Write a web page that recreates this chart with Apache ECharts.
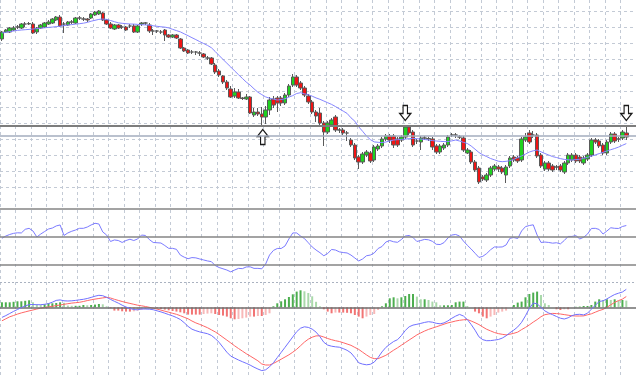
<!DOCTYPE html>
<html>
<head>
<meta charset="utf-8">
<title>chart</title>
<script src="https://cdn.jsdelivr.net/npm/echarts@6.0.0/dist/echarts.min.js"></script>
<style>
    html,body{margin:0;padding:0;background:#fff;}
    #main{width:636px;height:378px;}
</style>
</head>
<body>
<div id="main"></div>
<script>
// price panel (candles)
let candleOpen=[
    161,168,168,170,173,172,176,176,176,168,
    172,173,176,177,180,183,176,175,178,177,
    182,181,181,182,185,186,187,180,176,171,
    175,173,173,174,174,168,176,177,175,169,
    169,168,170,165,163,165,161,152,150,148,
    148,147,146,142,142,135,129,124,118,111,
    104,108,102,101,103,85,88,86,83,90,
    101,102,102,97,105,115,123,117,112,104,
    98,88,87,77,68,75,83,70,70,67,
    60,55,43,38,45,47,40,51,54,61,
    64,64,61,60,63,73,68,59,58,62,
    61,61,54,48,52,55,65,65,63,62,
    47,48,38,32,23,20,25,31,33,32,
    25,34,43,42,40,60,67,65,65,45,
    31,37,34,33,34,28,37,40,45,43,
    37,41,45,60,59,55,47,58,66,61,
    62,67
];
let candleClose=[
    168,170,172,172,173,176,176,176.5,167,172,
    175,177,178,181,183,174,176,178,178,182,
    182,181,180,186,188,189,180,176,172,175,
    172,173,170,174,168,174,177,177,169,169,
    169,168,165,163,165,162,152,149,147,148,
    148,147,143,142,136,128,125,118,112,103,
    108,102,101.5,103,87,88,86,83,90,100,
    95,97,97,105,114,123,115,112,105,98,
    88,84,77,68,77,80,70,70,67,67,
    55,42,38,46,48,39,53,54,61,64,
    60,55,55,63,73,67,55,59,62,62,
    61.5,53,48,54,55,63,65,65,63,50,
    50,38,30,18,21,25,32,34,31,28,
    33,42,40,39,61,63,58,65,44,34,
    37,31,30,33,30,37,45,45,39,39,
    42,45,60,58,54,47,58,66,59,61,
    68,63
];
let candleLow=[
    159,167,167,169,171,171,173,175,166,166,
    171,172,175,176,179,173,167,174,176,176,
    180,179,178,181,184,185,179,175,171,170,
    171,171,169,172,167,167,174,175,167,165,
    167,166,159,162,162,161,151,148,146,146,
    145,144,142,140,135,126,123,116,110,102,
    102,101,100,100,86,83,84,74,76,85,
    92,88,94,95,103,113,113,110,103,96,
    86,78,75,54,66,73,68,67,65,59,
    53,40,31,36,43,37,38,49,52,59,
    57,52,53,58,61,65,53,56,50,60,
    59,50,46,46,50,53,63,62,61,48,
    46,36,28,16,19,18,23,29,28,26,
    17,32,38,37,38,58,56,62,42,32,
    29,29,28,30,28,26,35,38,37,37,
    35,39,43,56,52,45,45,56,57,58,
    60,60
];
let candleHigh=[
    169,171,173,174,175,177,178,178,178,173,
    176,178,180,182,184,185,178,179,180,183,
    184,183,182,187,189,190,188,181,178,176,
    176,175,174,176,176,175,178,178,177,171,
    170,170,171,166,166,166,162,153,151,150,
    149,149,147,144,143,137,131,125,120,114,
    112,111,103,106,104,92,92,93,94,103,
    104,104,104,107,116,126,125,119,114,106,
    100,90,92,79,79,82,85,72,72,69,
    62,57,45,48,50,49,55,56,63,66,
    66,66,63,65,75,75,70,61,64,64,
    63,63,56,56,57,65,67,67,65,64,
    52,50,40,34,25,27,34,36,35,34,
    35,44,45,44,63,67,70,69,67,47,
    39,39,36,35,36,39,47,47,47,45,
    44,47,62,62,61,57,60,68,68,63,
    70,73
];
let maLine=[
    167,167.7,168.4,169,169.6,170,170.3,170.6,171,171.4,
    171.8,172.2,172.6,172.9,173.4,173.8,174.4,175,175.4,175.9,
    176.3,176.8,177.6,178.8,179.7,180.6,181,180.6,179.5,178.3,
    177.2,176.7,176.3,176,175.9,175.6,175.3,175.1,174.9,174.2,
    173.7,173.2,172.9,172.1,170.7,169.4,168.1,166.2,164.3,162.3,
    160.4,158.4,156.5,154.6,152.3,148.5,144.5,140.6,136.8,133,
    129.1,125.3,121.6,117.9,114.9,111.2,107.8,105.4,103.1,101.8,
    100.9,100,100.4,101.3,102.9,104.4,106.5,107.3,106.2,105.3,
    103.8,102.1,100.7,99,97.3,95.6,93.5,91.1,88.9,86.6,
    82.2,78.8,73.2,68.7,64,60.4,58.1,57.7,57.4,58,
    59,60,60.3,60.6,60.9,61.3,61.7,61.3,60.9,60.5,
    60,59.4,59,58.7,58.4,58.4,59.1,60,59,57.7,
    56.5,54,50.8,47.5,45.2,43.4,41.5,40.2,38.8,38.3,
    38.7,39.3,40.8,42.4,44.1,45.9,48,49.2,50,48.2,
    46.5,45,43.4,42.5,41.4,40.6,40.2,40,40.4,40.7,
    41.7,42.7,43.8,45.1,46.4,47.7,49,50.3,51.5,52.9,
    54.7,56.4
];
let priceLevels=[74.5,64];
// arrow signals: bar index + price level
let arrowDownBars=[104,161];
let arrowDownLevels=[87,87];
let arrowUpBars=[67];
let arrowUpLevels=[63];

// oscillator panel
let rsiValues=[
    48.6,50.2,51.3,52.1,52.5,52.4,55.0,55.7,53.8,49.5,
    51.6,53.4,55.2,55.9,57.4,58.1,50.6,52.4,53.6,54.5,
    55.7,55.7,56.6,58.1,59.3,58.8,53.1,50.9,46.3,47.4,
    47.0,45.6,47.0,47.9,47.0,48.1,50.9,50.6,47.7,45.6,
    45.4,45.2,43.4,41.4,41.4,40.7,36.6,35.1,34.0,34.8,
    34.6,33.8,33.1,32.4,31.9,29.1,27.7,26.8,25.9,24.6,
    25.9,27.1,26.9,28.1,28.2,27.1,27.1,26.8,30.2,36.6,
    39.9,41.3,41.3,43.1,48.1,52.4,52.4,50.2,48.4,45.4,
    42.4,40.2,38.3,36.1,37.7,40.6,40.2,38.9,38.4,38.1,
    36.6,34.5,32.4,33.8,36.1,36.6,38.1,41.3,42.7,45.9,
    47.0,46.1,45.7,47.7,50.2,50.6,49.1,46.3,47.0,47.8,
    47.5,46.4,44.3,44.1,45.5,48.8,50.9,51.3,50.2,46.6,
    43.6,40.9,37.9,34.9,35.7,37.7,40.4,42.4,42.3,42.4,
    43.8,48.6,49.1,48.4,53.8,56.9,57.7,58.2,50.9,45.6,
    45.9,45.6,45.1,45.4,44.6,47.0,49.9,49.9,50.5,48.1,
    49.3,51.6,55.6,55.7,54.9,51.6,53.8,56.1,55.7,55.6,
    57.0,57.7
];
let rsiLevels=[70,50,30];

// macd panel
let macdMain=[
    -10.1,-8.3,-6.2,-4.1,-2.2,-0.3,1.3,2.7,2.8,2.6,
    2.6,3.0,3.7,5.1,6.9,7.4,6.5,6.3,6.5,6.9,
    7.5,8.0,8.8,9.9,11.1,12.0,11.6,10.0,7.9,6.0,
    4.2,2.1,0.3,-1.1,-2.3,-2.5,-1.7,-1.7,-1.9,-2.4,
    -3.5,-4.6,-5.9,-7.3,-8.6,-10.2,-12.2,-15.4,-19.1,-21.9,
    -23.4,-24.6,-25.5,-26.4,-28.1,-31.2,-35.1,-40.0,-44.9,-48.8,
    -50.8,-52.7,-54.4,-56.0,-57.8,-59.9,-61.7,-63.3,-62.5,-59.5,
    -55.5,-50.3,-45.1,-40.0,-34.8,-29.6,-24.4,-20.9,-19.5,-20.1,
    -21.8,-24.8,-29.4,-35.0,-37.8,-38.9,-39.5,-39.9,-41.3,-43.0,
    -45.6,-50.2,-55.5,-56.8,-57.5,-57.0,-54.8,-50.2,-44.6,-40.1,
    -37.0,-34.2,-32.4,-28.3,-23.2,-19.5,-17.8,-17.0,-16.1,-15.1,
    -14.4,-14.9,-16.0,-16.5,-15.6,-13.6,-11.0,-8.8,-7.1,-8.7,
    -12.2,-17.2,-22.9,-29.5,-32.4,-33.4,-33.3,-32.8,-32.2,-30.8,
    -28.5,-25.4,-22.8,-19.6,-15.0,-8.5,-1.1,4.2,3.5,-0.1,
    -3.6,-5.7,-7.4,-9.2,-10.9,-11.7,-10.5,-8.3,-7.2,-7.0,
    -7.6,-5.9,-1.9,2.0,5.8,6.5,8.4,10.7,12.8,14.1,
    15.3,18.0
];
let macdSignal=[
    -13.5,-11.5,-9.5,-8.2,-6.8,-5.6,-4.6,-3.6,-2.7,-1.7,
    -0.9,-0.3,0.4,1.0,1.7,2.3,3.0,3.6,4.2,4.6,
    5.0,5.8,6.7,7.5,8.2,8.8,9.4,9.9,9.3,8.0,
    6.9,5.8,4.8,3.9,3.0,2.1,1.5,0.8,0.0,-0.9,
    -1.8,-2.8,-3.9,-4.9,-6.0,-7.0,-8.4,-10.0,-11.5,-13.7,
    -15.6,-17.1,-18.7,-20.4,-22.5,-24.6,-27.2,-30.0,-32.8,-35.6,
    -38.5,-41.2,-43.8,-46.4,-48.7,-51.1,-53.5,-56.7,-57.7,-57.7,
    -56.1,-54.1,-51.9,-49.7,-47.5,-44.9,-42.0,-38.4,-34.8,-31.9,
    -29.9,-28.6,-28.5,-29.7,-31.2,-32.4,-33.4,-34.2,-35.4,-36.7,
    -38.0,-40.1,-42.1,-44.9,-47.6,-50.1,-51.3,-51.4,-49.7,-48.0,
    -45.5,-42.9,-40.5,-37.9,-35.3,-32.7,-30.2,-27.6,-25.6,-23.7,
    -22.1,-20.8,-19.5,-18.2,-16.9,-15.6,-14.7,-13.7,-13.0,-12.5,
    -12.2,-13.7,-15.4,-17.3,-19.7,-22.0,-23.6,-25.2,-26.3,-27.0,
    -27.6,-26.9,-26.0,-24.8,-22.3,-20.1,-17.6,-14.8,-12.3,-9.4,
    -7.4,-6.7,-6.1,-6.3,-6.7,-7.3,-7.9,-8.5,-8.7,-8.7,
    -8.6,-7.5,-6.5,-4.9,-3.3,-2.1,0.0,2.5,4.9,6.7,
    8.2,10.8
];
let macdHist=[
    5,5,5,5.5,6,6,6.5,7,5,3,
    2.5,3,4,4,4.3,5,4.5,1.7,1.5,1.5,
    1.5,2.3,2,2.3,2.7,3.3,3,1,-1,-3.3,
    -3.3,-4,-4.3,-4.3,-4,-3.3,-2.7,-2,-0.7,-0.3,
    -1,-1.7,-2.3,-3,-3.7,-4.3,-5,-6,-7.3,-7.3,
    -7.3,-7.3,-6.7,-6.3,-6,-6.7,-7.7,-8.3,-9.3,-11,
    -12,-11.7,-11,-10.3,-9.3,-9.3,-8.7,-8.7,-7.7,-6,
    1,4,6,8,10.3,13,15.7,17,16,14.3,
    11,5.5,1,-2,-4.3,-6,-5.3,-5.3,-5.3,-5.5,
    -6,-7.7,-9.3,-11,-9.3,-7.7,-6.7,-2.7,1,4,
    9,10,9,10,11.3,13.3,13.3,10.7,8,8,
    7.3,5.7,5,2,2,2,2.3,5,5.7,5.7,
    1.3,0,-4.3,-6,-9.3,-11,-9.3,-7.7,-5.3,-4.3,
    -3.3,0,2.3,4.7,5.7,10,13.3,14.7,15.7,12.3,
    4,2.3,0,-2,-2.7,-2,-2,0,0.5,0.7,
    1.3,1.3,2.3,5.7,8,7.3,8,7.3,8,6.7,
    7.3,6.7
];
let macdLevels=[0,25.3];

(function () {

    let slotCount=164;   // 162 bars + empty space on the right
    let cats=Array.from({length:slotCount},(c,i)=>i);
    let candleData=candleOpen.map((o,i)=>[o,candleClose[i],candleLow[i],candleHigh[i]]);

    let gridColor='#c3cad5';
    let downArrow='path://M3,0L7,0L7,7L10,7L5,13L0,7L3,7Z';
    let upArrow='path://M5,0L10,6L7,6L7,13L3,13L3,6L0,6Z';

    let hideAxis={axisLine:{show:false},axisTick:{show:false},axisLabel:{show:false},splitLine:{show:false}};
    let xAxisFor=function (idx,showGrid) {
        return Object.assign({},hideAxis,{
            type:'category',gridIndex:idx,data:cats,boundaryGap:true,
            splitLine:{show:!!showGrid,interval:3,lineStyle:{color:gridColor,type:[3,3],width:1}}
        });
    };

    let histColor=function (p) {
        let v=p.value, prev=p.dataIndex>0?macdHist[p.dataIndex-1]:v;
        if(v>=0) return v>=prev?'#4cae4f':'#aad9ab';
        return v<=prev?'#f27474':'#f8b8b8';
    };

    let myChart=echarts.init(document.getElementById('main'),null,{renderer:'canvas'});
    let option={
        animation:false,
        backgroundColor:'#ffffff',
        grid:[
            {left:0,right:0,top:0,bottom:0},            // vertical grid for all panels
            {left:0,right:0,top:2.9,height:200},
            {left:0,right:0,top:194.3,height:84},
            {left:0,right:0,top:278.3,height:99.7}
        ],
        xAxis:[xAxisFor(0,true),xAxisFor(1),xAxisFor(2),xAxisFor(3)],
        yAxis:[
            Object.assign({},hideAxis,{type:'value',gridIndex:0,min:0,max:1}),
            Object.assign({},hideAxis,{type:'value',gridIndex:1,min:-2.9,max:197.1,interval:15.95,
                splitLine:{show:true,showMinLine:false,showMaxLine:false,lineStyle:{color:gridColor,type:[3,3],width:1}}}),
            Object.assign({},hideAxis,{type:'value',gridIndex:2,min:20,max:80}),
            Object.assign({},hideAxis,{type:'value',gridIndex:3,min:-70.7,max:29})
        ],
        series:[
            {
                name:'price',type:'candlestick',xAxisIndex:1,yAxisIndex:1,
                data:candleData,barWidth:4,
                itemStyle:{color:'#1fd21f',color0:'#f01414',borderColor:'#5a5a5a',borderColor0:'#5a5a5a',borderWidth:1},
                markLine:{
                    silent:true,symbol:'none',label:{show:false},
                    data:[
                        {yAxis:priceLevels[0],lineStyle:{color:'#7d7d7d',width:2,type:'solid'}},
                        {yAxis:priceLevels[1],lineStyle:{color:'#a3acbe',width:1.5,type:'solid'}}
                    ]
                }
            },
            {
                name:'ma',type:'line',xAxisIndex:1,yAxisIndex:1,data:maLine,
                symbol:'none',lineStyle:{color:'#8585ff',width:1}
            },
            {
                name:'down',type:'scatter',xAxisIndex:1,yAxisIndex:1,
                data:arrowDownBars.map((b,i)=>[b,arrowDownLevels[i]]),
                symbol:downArrow,symbolSize:[11,15],
                itemStyle:{color:'#ffffff',borderColor:'#1a1a1a',borderWidth:1.3,opacity:1}
            },
            {
                name:'up',type:'scatter',xAxisIndex:1,yAxisIndex:1,
                data:arrowUpBars.map((b,i)=>[b,arrowUpLevels[i]]),
                symbol:upArrow,symbolSize:[11,15],symbolOffset:[1,0],
                itemStyle:{color:'#ffffff',borderColor:'#1a1a1a',borderWidth:1.3,opacity:1}
            },
            {
                name:'rsi',type:'line',xAxisIndex:2,yAxisIndex:2,data:rsiValues,
                symbol:'none',lineStyle:{color:'#7b7bff',width:1},
                markLine:{
                    silent:true,symbol:'none',label:{show:false},
                    lineStyle:{color:'#858585',width:1.5,type:'solid'},
                    data:rsiLevels.map(c=>({yAxis:c}))
                }
            },
            {
                name:'hist',type:'bar',xAxisIndex:3,yAxisIndex:3,data:macdHist,
                barWidth:2,itemStyle:{color:histColor},
                markLine:{
                    silent:true,symbol:'none',label:{show:false},
                    data:[
                        {yAxis:macdLevels[0],lineStyle:{color:'#6e6e6e',width:1.5,type:'solid'}},
                        {yAxis:macdLevels[1],lineStyle:{color:'#aab2c0',width:1,type:[2,2]}}
                    ]
                }
            },
            {
                name:'macd',type:'line',xAxisIndex:3,yAxisIndex:3,data:macdMain,
                symbol:'none',lineStyle:{color:'#7070ff',width:1},z:5
            },
            {
                name:'signal',type:'line',xAxisIndex:3,yAxisIndex:3,data:macdSignal,
                symbol:'none',lineStyle:{color:'#ff6666',width:1},z:4
            }
        ]
    };
    myChart.setOption(option);

})(window);
</script>
</body>
</html>
